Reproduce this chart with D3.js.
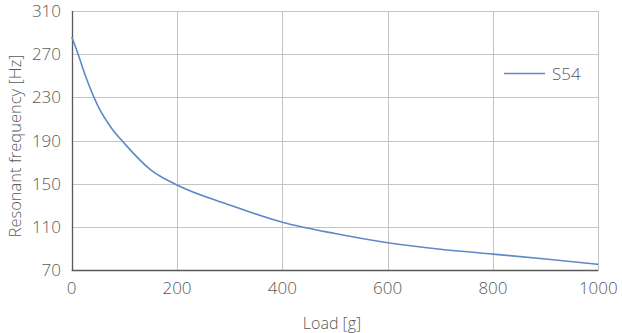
<!DOCTYPE html>
<html>
<head>
<meta charset="utf-8">
<script src="https://cdn.jsdelivr.net/npm/d3@7"></script>
<style>
  html, body { margin: 0; padding: 0; background: #fff; }
  svg { display: block; }
  text { font-family: "Open Sans", "Noto Sans", sans-serif; fill: #595959; font-weight: 300; }
</style>
</head>
<body>
<svg id="chart" width="622" height="333"></svg>
<script>
const loads = [0, 10, 25, 50, 75, 100, 150, 200, 300, 400, 500, 600, 700, 800, 900, 1000];
const freqS54 = [286, 273, 251.5, 222, 202, 187.5, 163, 149, 130.5, 114.5, 104, 95.5, 89.5, 85, 80.5, 75.5];
const xTicks = [0, 200, 400, 600, 800, 1000];
const yTicks = [70, 110, 150, 190, 230, 270, 310];
const seriesName = "S54";
const xTitle = "Load [g]";
const yTitle = "Resonant frequency [Hz]";

const svg = d3.select("#chart");
const pL = 71.7, pR = 598.3, pT = 11, pB = 270.3;

const x = d3.scaleLinear().domain([0, 1000]).range([pL, pR]);
const y = d3.scaleLinear().domain([70, 310]).range([pB, pT]);

// gridlines
svg.append("g").selectAll("line").data(yTicks.slice(1)).join("line")
  .attr("x1", pL).attr("x2", pR)
  .attr("y1", d => Math.round(y(d)) + 0.5).attr("y2", d => Math.round(y(d)) + 0.5)
  .attr("stroke", "#c4c4c4").attr("stroke-width", 1);
svg.append("g").selectAll("line").data(xTicks.slice(1)).join("line")
  .attr("y1", pT).attr("y2", pB)
  .attr("x1", d => Math.round(x(d)) + 0.5).attr("x2", d => Math.round(x(d)) + 0.5)
  .attr("stroke", "#c4c4c4").attr("stroke-width", 1);

// axes lines
svg.append("line").attr("x1", Math.round(pL) + 0.5).attr("x2", Math.round(pL) + 0.5)
  .attr("y1", pT).attr("y2", pB + 0.5).attr("stroke", "#595959").attr("stroke-width", 1.3);
svg.append("line").attr("x1", pL).attr("x2", pR)
  .attr("y1", Math.round(pB) + 0.5).attr("y2", Math.round(pB) + 0.5)
  .attr("stroke", "#595959").attr("stroke-width", 1.3);

// tick labels
svg.append("g").selectAll("text").data(yTicks).join("text")
  .attr("x", 61).attr("y", d => y(d)).attr("dy", "0.35em")
  .attr("text-anchor", "end").attr("font-size", 17).text(d => d);
svg.append("g").selectAll("text").data(xTicks).join("text")
  .attr("x", d => x(d)).attr("y", 293.5)
  .attr("text-anchor", "middle").attr("font-size", 17).text(d => d);

// axis titles
svg.append("text").attr("x", 332).attr("y", 329)
  .attr("text-anchor", "middle").attr("font-size", 16).text(xTitle);
svg.append("text").attr("transform", "translate(20.5,146) rotate(-90)")
  .attr("text-anchor", "middle").attr("font-size", 16.5).text(yTitle);

// series line
const line = d3.line().x(d => x(d[0])).y(d => y(d[1])).curve(d3.curveMonotoneX);
const pts = loads.map((l, i) => [l, freqS54[i]]);
svg.append("path").datum(pts).attr("d", line)
  .attr("fill", "none").attr("stroke", "#5f88c6").attr("stroke-width", 1.6);

// legend
svg.append("line").attr("x1", 504).attr("x2", 545).attr("y1", 73.5).attr("y2", 73.5)
  .attr("stroke", "#5f88c6").attr("stroke-width", 1.6);
svg.append("text").attr("x", 552).attr("y", 80).attr("font-size", 17).text(seriesName);
</script>
</body>
</html>
